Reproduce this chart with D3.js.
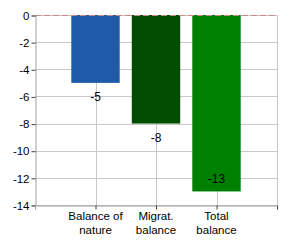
<!DOCTYPE html>
<html>
<head>
<meta charset="utf-8">
<script src="https://cdn.jsdelivr.net/npm/d3@7"></script>
<style>
  body { margin: 0; background: #fff; }
  text { font-family: "Liberation Sans", Arial, sans-serif; font-size: 11.5px; fill: #000; }
</style>
</head>
<body>
<script>
var categories = [["Balance of", "nature"], ["Migrat.", "balance"], ["Total", "balance"]];
var values = [-5, -8, -13];
var barColors = ["#1f5aa8", "#004d00", "#008000"];
var yTicks = [0, -2, -4, -6, -8, -10, -12, -14];

var width = 290, height = 250;
var plotLeft = 35, plotRight = 277, plotTop = 15, plotBottom = 205;

var svg = d3.select("body").append("svg")
  .attr("width", width)
  .attr("height", height);

var x = d3.scaleLinear().domain([0, categories.length + 1]).range([plotLeft, plotRight]);
var y = d3.scaleLinear().domain([0, -14]).range([plotTop, plotBottom]);

//
// grid
//
svg.append("g").selectAll("line")
  .data(yTicks)
  .enter().append("line")
  .attr("x1", plotLeft).attr("x2", plotRight)
  .attr("y1", function(d) { return Math.round(y(d)) + 0.5; })
  .attr("y2", function(d) { return Math.round(y(d)) + 0.5; })
  .attr("stroke", "#c8c8c8");

svg.append("g").selectAll("line")
  .data(d3.range(1, categories.length + 2))
  .enter().append("line")
  .attr("x1", function(d) { return Math.round(x(d)) + 0.5; })
  .attr("x2", function(d) { return Math.round(x(d)) + 0.5; })
  .attr("y1", plotTop).attr("y2", plotBottom)
  .attr("stroke", "#c8c8c8");

//
// bars
//
var bw = (x(1) - x(0)) * 0.8;
svg.append("g").selectAll("rect")
  .data(values)
  .enter().append("rect")
  .attr("x", function(d, i) { return x(i + 1) - bw / 2; })
  .attr("y", y(0))
  .attr("width", bw)
  .attr("height", function(d) { return y(d) - y(0); })
  .attr("fill", function(d, i) { return barColors[i]; });

// zero line
svg.append("line")
  .attr("x1", plotLeft).attr("x2", plotRight)
  .attr("y1", y(0) + 0.5).attr("y2", y(0) + 0.5)
  .attr("stroke", "#d08888")
  .attr("stroke-width", 1)
  .attr("stroke-dasharray", "6,3");

//
// axes
//
var yAxis = svg.append("g")
  .attr("transform", "translate(" + (plotLeft + 0.5) + ",0.5)")
  .call(d3.axisLeft(y).tickValues(yTicks).tickSize(4).tickPadding(2).tickFormat(function(d) { return d; }));
yAxis.select(".domain").attr("stroke", "#a0a0a0");
yAxis.selectAll(".tick line").attr("stroke", "#404040");
yAxis.selectAll("text").style("font-size", "11.5px").attr("fill", "#000");

var xAxis = svg.append("g")
  .attr("transform", "translate(0," + (plotBottom + 0.5) + ")")
  .call(d3.axisBottom(x).tickValues(d3.range(1, categories.length + 2)).tickSize(4).tickFormat(""));
xAxis.select(".domain").attr("stroke", "#a0a0a0");
xAxis.selectAll(".tick line").attr("stroke", "#404040");

// category labels
var cat = svg.append("g").selectAll("text")
  .data(categories)
  .enter().append("text")
  .attr("text-anchor", "middle")
  .attr("x", function(d, i) { return x(i + 1); })
  .attr("y", plotBottom + 15);
cat.selectAll("tspan")
  .data(function(d) { return d; })
  .enter().append("tspan")
  .attr("x", function() { return d3.select(this.parentNode).attr("x"); })
  .attr("dy", function(d, i) { return i === 0 ? 0 : 13.5; })
  .text(function(d) { return d; });

// value labels
svg.append("g").selectAll("text")
  .data(values)
  .enter().append("text")
  .attr("text-anchor", "middle")
  .attr("x", function(d, i) { return x(i + 1); })
  .attr("y", function(d) {
    var yy = y(d) + 18;
    if (yy > plotBottom - 2) yy = y(d) - 8;
    return yy;
  })
  .style("font-size", "12px")
  .text(function(d) { return d; });
</script>
</body>
</html>
